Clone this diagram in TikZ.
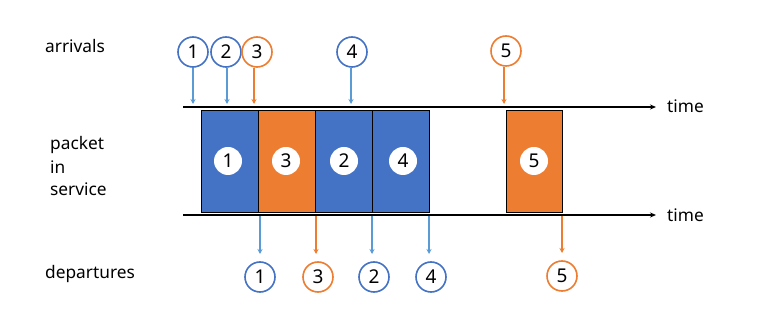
\documentclass[tikz,border=0pt]{standalone}
\usepackage{fontspec}
\setmainfont{Noto Sans}
\usetikzlibrary{arrows.meta}
\definecolor{cblue}{HTML}{4472C4}
\definecolor{cltblue}{HTML}{5B9BD5}
\definecolor{corange}{HTML}{ED7D31}
\begin{document}
\begin{tikzpicture}[x=1pt,y=-1pt,
  lbl/.style={font=\fontsize{17.3}{20}\selectfont, anchor=west, inner sep=0pt},
  pcirc/.style={circle, draw=#1, line width=1.6pt, fill=white, minimum size=30pt, inner sep=0pt, font=\fontsize{19}{19}\selectfont},
  wcirc/.style={circle, fill=white, minimum size=28pt, inner sep=0pt, font=\fontsize{19}{19}\selectfont},
  pbox/.style={draw=black, line width=0.8pt, fill=#1},
  tline/.style={line width=1.6pt, -{Stealth[length=6pt,width=5pt]}},
  conn/.style={draw=#1, line width=1.4pt, -{Stealth[length=5pt,width=5pt]}}
]
\useasboundingbox (0,0) rectangle (761,320);
% labels
\node[lbl] (arr) at (45,46) {arrivals};
\node[lbl] (pk) at (50,145) {packet};
\node[lbl] (in) at (50,167) {in};
\node[lbl] (sv) at (50,189) {service};
\node[lbl] (dep) at (45,274) {departures};
% time lines
\coordinate (t1s) at (183,107);
\coordinate (t1e) at (656,107);
\coordinate (t2s) at (183,215);
\coordinate (t2e) at (656,215);
% boxes
\draw[pbox=cblue] (201,110) rectangle (258,212);
\draw[pbox=corange] (258,110) rectangle (315,212);
\draw[pbox=cblue] (315,110) rectangle (372,212);
\draw[pbox=cblue] (372,110) rectangle (429,212);
\draw[pbox=corange] (506,110) rectangle (562,212);
\node[wcirc] (w1) at (228,161) {1};
\node[wcirc] (w3) at (286,161) {3};
\node[wcirc] (w2) at (344,161) {2};
\node[wcirc] (w4) at (403,161) {4};
\node[wcirc] (w5) at (534,161) {5};
\draw[tline] (t1s) -- (t1e);
\draw[tline] (t2s) -- (t2e);
\node[lbl] (time1) at (667,106) {time};
\node[lbl] (time2) at (667,215) {time};
% arrivals
\node[pcirc=cblue] (a1) at (193,52) {1};
\node[pcirc=cblue] (a2) at (226,52) {2};
\node[pcirc=corange] (a3) at (257,52) {3};
\node[pcirc=cblue] (a4) at (352,52) {4};
\node[pcirc=corange] (a5) at (506,51) {5};
\coordinate (e1) at (193,104);
\coordinate (e2) at (227,104);
\coordinate (e3) at (254,104);
\coordinate (e4) at (351,104);
\coordinate (e5) at (504,104);
\draw[conn=cltblue] (a1.south) -- (e1);
\draw[conn=cltblue] (a2.south -| e2) -- (e2);
\draw[conn=corange] (a3.south -| e3) -- (e3);
\draw[conn=cltblue] (a4.south -| e4) -- (e4);
\draw[conn=corange] (a5.south -| e5) -- (e5);
% departures
\node[pcirc=cblue] (d1) at (260,277) {1};
\node[pcirc=corange] (d3) at (318,277) {3};
\node[pcirc=cblue] (d2) at (374,277) {2};
\node[pcirc=cblue] (d4) at (431,277) {4};
\node[pcirc=corange] (d5) at (562,276) {5};
\coordinate (s1) at (260,216);
\coordinate (s3) at (316,216);
\coordinate (s2) at (372,216);
\coordinate (s4) at (429,216);
\coordinate (s5) at (562,216);
\draw[conn=cltblue] (s1) -- (s1 |- 0,254);
\draw[conn=corange] (s3) -- (s3 |- 0,254);
\draw[conn=cltblue] (s2) -- (s2 |- 0,254);
\draw[conn=cltblue] (s4) -- (s4 |- 0,254);
\draw[conn=corange] (s5) -- (s5 |- 0,253);
\end{tikzpicture}
\end{document}
